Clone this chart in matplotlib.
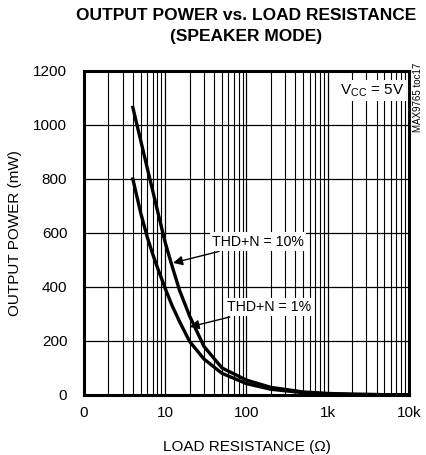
import matplotlib
matplotlib.use('Agg')
import matplotlib.pyplot as plt

# Dados (resistência em ohms, potência em mW)
load_res = [4, 5, 6, 7, 8, 10, 12, 15, 20, 30, 50, 100, 200, 500, 1000, 2000, 5000, 10000]
power_thd10 = [1065, 942, 842, 758, 685, 565, 483, 388, 292, 180, 100, 55, 28, 11, 5.5, 2.8, 1.1, 0.55]
power_thd1 = [800, 674, 586, 523, 473, 395, 335, 272, 198, 133, 80, 42, 21, 8.5, 4.2, 2.1, 0.85, 0.42]

x_ticks = [1, 10, 100, 1000, 10000]
x_tick_labels = ['0', '10', '100', '1k', '10k']
y_ticks = [0, 200, 400, 600, 800, 1000, 1200]

plt.rcParams['font.family'] = ['Liberation Sans', 'DejaVu Sans']
plt.rcParams['mathtext.fontset'] = 'custom'
plt.rcParams['mathtext.rm'] = 'Liberation Sans'

fig = plt.figure(figsize=(4.26, 4.55), dpi=100)
ax = fig.add_axes([0.197, 0.132, 0.763, 0.712])

ax.plot(load_res, power_thd10, color='black', lw=2.4, zorder=3)
ax.plot(load_res, power_thd1, color='black', lw=2.4, zorder=3)

ax.set_xscale('log')
ax.set_xlim(1, 10000)
ax.set_ylim(0, 1200)
ax.set_xticks(x_ticks)
ax.set_xticklabels(x_tick_labels)
ax.set_yticks(y_ticks)
ax.minorticks_off()
ax.set_xticks([m * 10 ** d for d in range(4) for m in range(2, 10)], minor=True)
ax.tick_params(which='both', length=0, labelsize=11)
ax.tick_params(axis='x', pad=8)
ax.tick_params(axis='y', pad=12)

# grade
ax.grid(True, which='major', axis='both', color='black', lw=0.9)
ax.grid(True, which='minor', axis='x', color='black', lw=0.8)
ax.set_axisbelow(True)

for s in ax.spines.values():
    s.set_linewidth(2.2)
    s.set_zorder(4)

fig.text(0.577, 0.982, 'OUTPUT POWER vs. LOAD RESISTANCE\n(SPEAKER MODE)', ha='center', va='top',
         fontsize=12.5, fontweight='bold', linespacing=1.45)
ax.set_xlabel('LOAD RESISTANCE (Ω)', fontsize=11)
ax.set_ylabel('OUTPUT POWER (mW)', fontsize=11)
ax.xaxis.set_label_coords(0.5, -0.138)
ax.yaxis.set_label_coords(-0.19, 0.5)

box = dict(facecolor='white', edgecolor='none', pad=1.5)
ax.text(0.985, 0.965, r'V$_{\mathrm{CC}}$ = 5V', transform=ax.transAxes, ha='right', va='top',
        fontsize=11, bbox=box, zorder=5)
fig.text(0.982, 0.862, 'MAX9765 toc17', rotation=90, ha='center', va='top', fontsize=7)

ax.annotate('THD+N = 10%', xy=(12.5, 489), xytext=(38, 568), fontsize=10.2, va='center',
            bbox=box, zorder=5,
            arrowprops=dict(arrowstyle='-|>', color='black', lw=1, mutation_scale=14,
                            shrinkA=2, shrinkB=0))
ax.annotate('THD+N = 1%', xy=(20, 252), xytext=(58, 325), fontsize=10.2, va='center',
            bbox=box, zorder=5,
            arrowprops=dict(arrowstyle='-|>', color='black', lw=1, mutation_scale=14,
                            shrinkA=2, shrinkB=0))

plt.savefig('out.png', dpi=100)
